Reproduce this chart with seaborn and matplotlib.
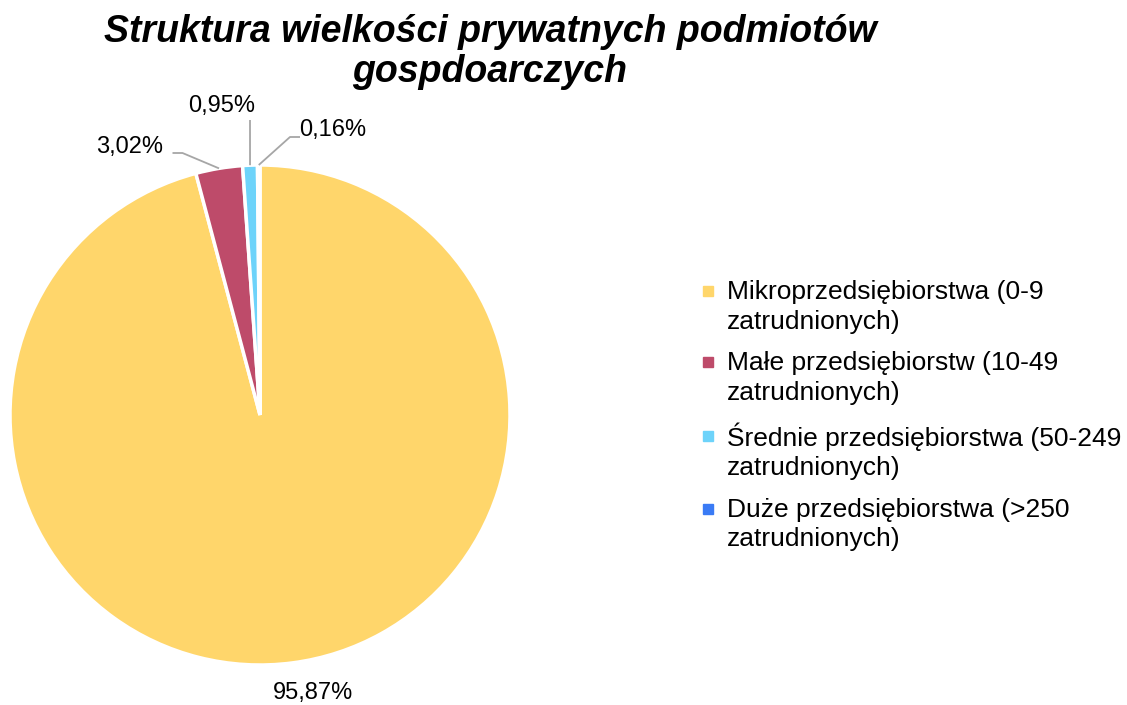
import numpy as np
import matplotlib
matplotlib.use('Agg')
import matplotlib.pyplot as plt
import seaborn as sns
from matplotlib.lines import Line2D
from matplotlib.legend_handler import HandlerLine2D

# data
categories = ['Mikroprzedsiębiorstwa (0-9\nzatrudnionych)',
              'Małe przedsiębiorstw (10-49\nzatrudnionych)',
              'Średnie przedsiębiorstwa (50-249\nzatrudnionych)',
              'Duże przedsiębiorstwa (>250\nzatrudnionych)']
shares = [95.87, 3.02, 0.95, 0.16]
pct_labels = ['95,87%', '3,02%', '0,95%', '0,16%']
title = 'Struktura wielkości prywatnych podmiotów\ngospdoarczych'

colors = sns.color_palette(['#FFD66B', '#BE4B6A', '#6DD3FA', '#3A7BF5'])

sns.set_theme(style='white')
plt.rcParams['font.family'] = ['Liberation Sans', 'DejaVu Sans']
plt.rcParams['text.color'] = '#000000'

LEG_FS = 19


class FirstLineHandler(HandlerLine2D):
    # put the square next to the first line of a two line label
    def create_artists(self, legend, orig_handle, xdescent, ydescent,
                       width, height, fontsize, trans):
        arts = super().create_artists(legend, orig_handle, xdescent, ydescent,
                                      width, height, fontsize, trans)
        for a in arts:
            a.set_ydata(np.asarray(a.get_ydata()) + 0.6 * fontsize)
        return arts


fig = plt.figure(figsize=(11.27, 7.05), dpi=100)
ax = fig.add_axes([0, 0, 1, 1])

wedges, _ = ax.pie(shares, colors=colors, startangle=90, counterclock=False,
                   radius=1, wedgeprops=dict(edgecolor='white', linewidth=2.5))

# pie is centred at (0, 0) with radius 1 -> 250 px per unit
ax.set_xlim(-1.04, 3.468)
ax.set_ylim(-1.16, 1.66)
ax.set_aspect('auto')
ax.axis('off')

# label positions (text centre) relative to pie, leader elbow
label_pos = [(0.21, -1.11), (-0.52, 1.072), (-0.152, 1.236), (0.292, 1.14)]
elbows = [None, (-0.31, 1.048), (-0.04, 1.18), (0.12, 1.112)]
line_start = [None, (-0.35, 1.048), None, (0.16, 1.112)]

for w, lab, pos, elb, st in zip(wedges, pct_labels, label_pos, elbows, line_start):
    mid = np.deg2rad((w.theta1 + w.theta2) / 2)
    edge = (np.cos(mid), np.sin(mid))
    ax.text(pos[0], pos[1], lab, ha='center', va='center', fontsize=17, color='#000000')
    if elb is not None:
        xs = [elb[0], edge[0]]
        ys = [elb[1], edge[1]]
        if st is not None:
            xs = [st[0]] + xs
            ys = [st[1]] + ys
        ax.plot(xs, ys, color='#A6A6A6', lw=1.3, solid_capstyle='butt')

ax.text(0.92, 1.604, title, ha='center', va='top', fontsize=27,
        fontweight='bold', fontstyle='italic', linespacing=1.15, color='#000000')

handles = [Line2D([], [], marker='s', linestyle='none', markersize=7,
                  markerfacecolor=c, markeredgecolor=c) for c in colors]
leg = fig.legend(handles, categories, loc='upper left', bbox_to_anchor=(0.612, 0.618),
                 frameon=False, fontsize=LEG_FS, handlelength=0.6, handletextpad=0.4,
                 labelspacing=0.66, borderaxespad=0,
                 handler_map={Line2D: FirstLineHandler()})
for t in leg.get_texts():
    t.set_color('#000000')
    t.set_linespacing(1.3)

fig.savefig('out.png', dpi=100)
